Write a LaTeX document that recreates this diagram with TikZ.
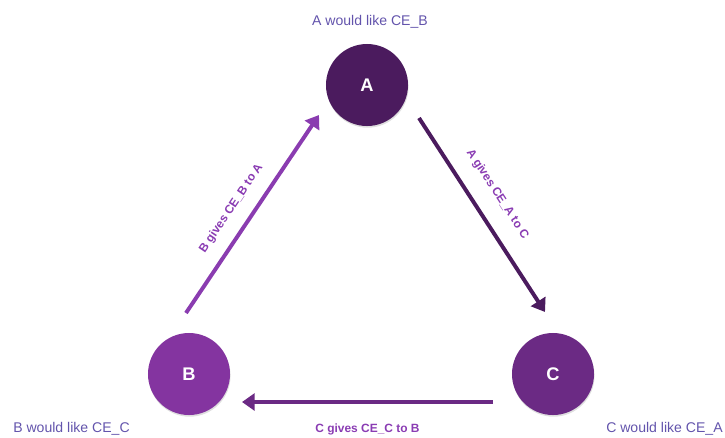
\documentclass[tikz,border=0pt]{standalone}
\usepackage{fontspec}
\setmainfont{Liberation Sans}
\usetikzlibrary{arrows.meta,shadows}
\definecolor{aviolet}{HTML}{4B1B5E}
\definecolor{bviolet}{HTML}{8434A0}
\definecolor{cviolet}{HTML}{6B2A84}
\definecolor{baline}{HTML}{8A3CB0}
\definecolor{wishtext}{HTML}{6354AC}
\definecolor{givetext}{HTML}{8A3CB3}
\tikzset{
  party/.style={circle, minimum size=2.05cm, inner sep=0pt, text=white,
    font=\bfseries\fontsize{13}{15}\selectfont,
    drop shadow={opacity=0.25, shadow xshift=0.4pt, shadow yshift=-1.2pt}},
  wish/.style={text=wishtext, inner sep=0pt, font=\fontsize{10}{12}\selectfont},
  gift/.style={line width=2.8pt, -{Triangle[length=9pt,width=12pt]}},
  giftlabel/.style={text=givetext, font=\bfseries\fontsize{8.5}{10}\selectfont}
}
\begin{document}
\begin{tikzpicture}[x=0.025cm, y=-0.025cm]
\useasboundingbox (0,0) rectangle (725,437);
\node[party, fill=aviolet] (A) at (367,85) {A};
\node[party, fill=bviolet] (B) at (189,374) {B};
\node[party, fill=cviolet] (C) at (553,374) {C};
\node[wish, anchor=base] (wa) at (370,25) {A would like CE\_B};
\node[wish, anchor=base west] (wb) at (13,432) {B would like CE\_C};
\node[wish, anchor=base east] (wc) at (723,432) {C would like CE\_A};
% arrow ends
\coordinate (b-out) at (186,313);
\coordinate (a-in) at (319,115);
\coordinate (a-out) at (419,118);
\coordinate (c-in) at (545,312);
\coordinate (c-out) at (493,402);
\coordinate (b-in) at (242,402);
\draw[gift, baline] (b-out) -- (a-in) node[giftlabel, pos=0.47, sloped, above=6pt] (gb) {B gives CE\_B to A};
\draw[gift, aviolet] (a-out) -- (c-in) node[giftlabel, pos=0.46, sloped, above=8.5pt] (ga) {A gives CE\_A to C};
\draw[gift, cviolet] (c-out) -- (b-in) node[giftlabel, midway, below=11pt] (gc) {C gives CE\_C to B};
\end{tikzpicture}
\end{document}
